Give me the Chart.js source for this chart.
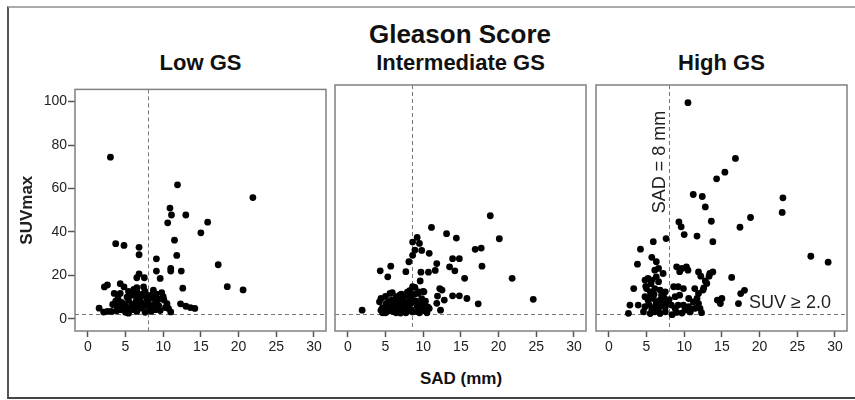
<!DOCTYPE html>
<html>
<head>
<meta charset="utf-8">
<script src="https://cdn.jsdelivr.net/npm/chart.js@4.4.1/dist/chart.umd.min.js"></script>
<style>
    body {
        margin: 0;
        width: 855px;
        height: 400px;
        background: #fff;
        position: relative;
        overflow: hidden;
        font-family: "Liberation Sans", Arial, sans-serif;
        color: #111;
    }
    .frame {
        position: absolute;
        left: 7px;
        top: 6px;
        width: 860px;
        height: 393px;
        box-sizing: border-box;
        border-top: 2px solid #aaa;
        border-left: 2px solid #555;
        border-bottom: 2px solid #444;
    }
    .lbl {
        position: absolute;
        text-align: center;
        font-weight: bold;
        white-space: nowrap;
    }
    .main-title { left: 330px; width: 260px; top: 21px; font-size: 26px; line-height: 26px; }
    .panel-title { top: 52px; width: 251px; font-size: 22px; line-height: 22px; }
    .x-title { left: 361px; width: 200px; top: 370px; font-size: 17px; line-height: 17px; }
    .box { position: absolute; top: 80px; height: 281px; }
</style>
</head>
<body>
<div class="frame"></div>
<div class="lbl main-title">Gleason Score</div>
<div class="lbl panel-title" style="left:75px">Low GS</div>
<div class="lbl panel-title" style="left:335px">Intermediate GS</div>
<div class="lbl panel-title" style="left:596px">High GS</div>
<div class="lbl x-title">SAD (mm)</div>

<div class="box" style="left:0px;width:330px"><canvas id="lowChart"></canvas></div>
<div class="box" style="left:331px;width:259px"><canvas id="midChart"></canvas></div>
<div class="box" style="left:592px;width:259px"><canvas id="highChart"></canvas></div>

<script>
// Axis ticks
const xTicks = [0, 5, 10, 15, 20, 25, 30];
const yTicks = [0, 20, 40, 60, 80, 100];

// Cut-off lines (SAD in mm, SUVmax)
const sadCutoffs = [8, 8.5, 8];
const suvCutoff = 2;

// Low GS
const lowSad = [
    3.0, 11.9, 21.9, 10.9, 11.1, 13.0, 10.6, 15.9, 15.0, 11.5,
    3.7, 4.8, 6.8, 6.8, 11.8, 9.1, 17.3, 11.0, 11.0, 9.1,
    12.4, 6.8, 6.5, 7.5, 9.6, 18.5, 20.6, 12.6, 2.2, 2.6,
    4.3, 4.8, 3.5, 4.3, 5.4, 6.5, 6.5, 6.5, 7.4, 7.6,
    7.7, 8.7, 9.1, 9.8, 10.0, 9.4, 10.1, 5.4, 3.7, 4.5,
    6.4, 7.1, 7.9, 8.8, 9.4, 10.3, 10.7, 11.0, 12.3, 13.0,
    13.6, 14.2, 1.5, 2.6, 3.1, 3.8, 4.3, 4.9, 5.4, 6.0,
    6.5, 7.1, 7.6, 8.2, 8.4, 9.0, 9.6, 5.4, 4.5, 3.8,
    6.0, 6.5, 7.6, 5.0, 5.8, 7.0, 5.9, 4.9, 6.9, 8.0,
    5.2, 4.0, 8.3, 6.1, 7.3, 8.6, 3.3, 2.1, 9.1, 10.5,
    6.3
];
const lowSuv = [
    74.4, 61.7, 55.8, 51.0, 47.8, 47.8, 44.2, 44.5, 39.6, 36.2,
    34.6, 33.8, 32.9, 29.5, 29.2, 27.6, 24.9, 23.2, 22.0, 22.0,
    22.0, 20.7, 18.9, 18.9, 18.6, 14.8, 13.3, 14.1, 14.7, 15.6,
    16.2, 14.7, 11.7, 11.7, 12.6, 14.4, 12.6, 10.6, 14.7, 12.6,
    10.2, 13.2, 11.4, 12.1, 10.2, 9.1, 8.7, 8.7, 8.1, 7.6,
    8.1, 7.5, 8.5, 6.7, 6.1, 5.2, 4.8, 3.2, 6.9, 5.8,
    5.2, 4.8, 4.9, 3.4, 3.4, 3.6, 4.2, 4.9, 2.6, 4.2,
    3.4, 4.9, 3.0, 4.9, 3.4, 4.2, 3.8, 4.9, 5.5, 6.1,
    6.1, 4.9, 6.1, 3.0, 6.8, 10.0, 10.9, 6.5, 5.6, 7.2,
    10.0, 9.5, 10.8, 13.5, 11.5, 9.5, 6.6, 3.1, 7.8, 7.0,
    7.0
];

// Intermediate GS
const midSad = [
    18.9, 11.1, 13.1, 14.4, 20.1, 9.2, 8.6, 9.5, 8.9, 9.8,
    10.8, 8.6, 16.9, 17.7, 8.1, 11.8, 13.9, 14.8, 13.5, 14.2,
    17.8, 5.7, 4.3, 7.7, 9.7, 10.7, 11.6, 5.3, 15.5, 21.8,
    9.6, 24.6, 17.3, 15.8, 13.9, 14.8, 12.2, 12.5, 11.9, 12.8,
    11.8, 12.3, 1.9, 10.3, 10.6, 10.8, 10.5, 10.1, 8.6, 9.3,
    8.2, 8.4, 4.2, 4.4, 4.6, 4.6, 5.1, 5.2, 5.8, 5.8,
    5.8, 5.9, 6.4, 6.4, 6.4, 6.4, 7.1, 7.1, 7.1, 7.1,
    7.7, 7.7, 7.7, 8.2, 8.4, 8.4, 8.8, 9.0, 9.2, 9.2,
    9.5, 9.7, 9.5, 5.0, 4.4, 5.6, 6.9, 8.9, 9.4, 10.0,
    5.4, 6.1, 6.8, 7.4, 6.0, 6.7, 5.3, 7.9, 8.0, 4.8,
    6.2, 7.5, 9.9, 10.2, 5.5, 6.7, 7.3, 8.0, 5.0, 6.0,
    7.0, 8.6, 9.8, 7.9
];
const midSuv = [
    46.5, 41.2, 38.4, 36.4, 36.1, 36.7, 34.6, 34.0, 31.0, 30.8,
    29.5, 28.6, 31.3, 31.9, 25.7, 24.9, 27.1, 27.1, 23.4, 21.6,
    23.7, 23.7, 21.6, 21.2, 21.0, 21.0, 21.8, 18.9, 18.2, 18.2,
    17.0, 8.7, 6.7, 9.1, 10.3, 10.3, 13.6, 12.9, 10.2, 8.4,
    6.9, 3.8, 3.8, 7.9, 5.3, 4.6, 2.6, 12.1, 14.4, 11.4,
    12.6, 9.9, 7.6, 9.1, 5.0, 2.6, 6.9, 4.6, 8.4, 6.1,
    3.8, 11.7, 9.9, 6.9, 4.6, 2.6, 11.1, 8.4, 5.7, 3.5,
    6.9, 4.6, 2.6, 8.4, 6.9, 4.1, 11.0, 8.0, 5.5, 3.2,
    7.0, 4.6, 2.6, 2.6, 3.8, 11.4, 10.6, 14.1, 12.1, 12.3,
    5.5, 5.0, 6.0, 5.0, 3.2, 3.6, 3.3, 3.3, 5.5, 4.0,
    7.7, 7.6, 6.2, 3.6, 7.5, 8.0, 9.6, 10.5, 10.0, 4.2,
    2.5, 3.0, 9.0, 12.0
];

// High GS
const highSad = [
    10.5, 16.8, 15.4, 14.3, 11.2, 12.4, 12.8, 23.1, 23.0, 18.8,
    17.4, 13.6, 9.3, 9.6, 10.0, 11.7, 13.8, 7.6, 5.9, 4.2,
    26.8, 29.1, 5.7, 6.3, 13.8, 13.3, 12.8, 16.3, 13.4, 13.0,
    18.0, 17.5, 17.2, 14.4, 15.0, 14.8, 12.6, 3.8, 6.6, 6.1,
    5.2, 4.8, 5.7, 6.3, 6.6, 3.3, 5.0, 5.5, 6.1, 6.8,
    7.0, 7.5, 4.8, 5.2, 5.9, 6.3, 6.8, 7.2, 7.7, 2.8,
    3.9, 4.8, 5.7, 6.6, 7.5, 8.3, 2.6, 4.6, 5.5, 6.1,
    6.8, 7.5, 9.0, 9.7, 10.3, 10.5, 8.6, 9.2, 9.9, 11.4,
    11.9, 12.5, 8.8, 9.4, 10.6, 11.2, 11.7, 11.9, 12.1, 11.4,
    10.6, 9.9, 9.2, 8.8, 10.1, 9.0, 9.7, 10.8, 12.3, 7.2,
    11.9, 12.2, 9.4, 5.6, 4.9, 8.4, 5.3, 6.2, 7.0, 8.0,
    6.0, 5.6, 7.3
];
const highSuv = [
    97.6, 72.4, 66.2, 63.2, 56.1, 55.2, 50.5, 54.6, 48.0, 45.7,
    41.3, 44.0, 43.7, 41.5, 38.0, 37.3, 34.8, 36.2, 34.8, 31.4,
    28.2, 25.5, 27.7, 25.7, 21.1, 19.2, 17.0, 18.6, 20.4, 15.9,
    12.8, 11.3, 6.8, 8.4, 9.1, 6.8, 13.9, 24.6, 22.7, 21.9,
    18.2, 17.4, 17.4, 18.9, 16.7, 13.6, 13.6, 12.1, 13.6, 12.9,
    10.6, 12.1, 9.9, 8.4, 9.1, 7.6, 8.4, 6.8, 7.6, 6.1,
    6.1, 5.4, 4.6, 4.6, 5.4, 6.1, 2.4, 3.1, 2.3, 3.1,
    2.3, 3.1, 23.4, 22.7, 23.4, 21.9, 14.4, 14.4, 13.6, 13.6,
    11.4, 12.9, 9.9, 10.6, 9.1, 7.6, 9.1, 6.8, 4.6, 4.6,
    5.4, 6.1, 6.1, 4.6, 3.8, 2.8, 2.5, 3.0, 2.7, 20.4,
    21.1, 19.2, 21.2, 15.8, 14.6, 1.8, 6.5, 6.0, 5.8, 8.6,
    11.0, 10.3, 9.6
];

const X_MIN = -1.7, X_MAX = 31.6;
const Y_MIN = -5.6, Y_MAX = 105.6;

Chart.defaults.font.family = '"Liberation Sans", Arial, sans-serif';
Chart.defaults.color = "#222";

const toPoints = (xs, ys) => xs.map((x, i) => ({ x, y: ys[i] }));

// Dashed cut-off lines under the dots, grey frame on top
const cutoffLines = {
    id: "cutoffLines",
    beforeDatasetsDraw(chart, args, opts) {
        const { ctx, chartArea: a, scales: { x, y } } = chart;
        ctx.save();
        ctx.strokeStyle = "#777";
        ctx.lineWidth = 1;
        ctx.setLineDash([4, 3]);
        const px = Math.round(x.getPixelForValue(opts.sad)) + 0.5;
        const py = Math.round(y.getPixelForValue(suvCutoff)) + 0.5;
        ctx.beginPath();
        ctx.moveTo(px, a.top);
        ctx.lineTo(px, a.bottom);
        ctx.moveTo(a.left, py);
        ctx.lineTo(a.right, py);
        ctx.stroke();
        ctx.restore();
    },
    afterDatasetsDraw(chart) {
        const { ctx, chartArea: a } = chart;
        ctx.save();
        ctx.strokeStyle = "#808080";
        ctx.lineWidth = 1.5;
        ctx.strokeRect(a.left, a.top, a.right - a.left, a.bottom - a.top);
        ctx.restore();
    },
};

// Labels of the cut-off lines (High GS panel only)
const cutoffLabels = {
    id: "cutoffLabels",
    afterDatasetsDraw(chart) {
        const { ctx, chartArea: a, scales: { x, y } } = chart;
        ctx.save();
        ctx.fillStyle = "#222";
        ctx.font = '18px "Liberation Sans", Arial, sans-serif';
        ctx.textAlign = "right";
        ctx.textBaseline = "middle";
        ctx.fillText("SUV \u2265 2.0", a.right - 16, y.getPixelForValue(suvCutoff) - 11);
        ctx.translate(x.getPixelForValue(sadCutoffs[2]) - 9, a.top + 77);
        ctx.rotate(-Math.PI / 2);
        ctx.textAlign = "center";
        ctx.fillText("SAD = 8 mm", 0, 0);
        ctx.restore();
    },
};

const tickGrid = {
    drawOnChartArea: false,
    drawTicks: true,
    color: "#555",
    tickWidth: 1.5,
};

const makePanel = (id, xs, ys, sad, withYAxis, extraPlugins) => {
    new Chart(document.getElementById(id), {
        type: "scatter",
        data: {
            datasets: [
                {
                    data: toPoints(xs, ys),
                    backgroundColor: "#000",
                    borderWidth: 0,
                    pointRadius: 3.4,
                },
            ],
        },
        options: {
            responsive: true,
            maintainAspectRatio: false,
            animation: false,
            layout: { padding: { left: withYAxis ? 0 : 4, right: 4, top: 5, bottom: 0 } },
            plugins: {
                legend: { display: false },
                tooltip: { enabled: false },
                cutoffLines: { sad },
            },
            scales: {
                x: {
                    type: "linear",
                    min: X_MIN,
                    max: X_MAX,
                    afterBuildTicks: (s) => { s.ticks = xTicks.map((v) => ({ value: v })); },
                    afterFit: (s) => { s.height = 30; },
                    grid: { ...tickGrid, tickLength: 6 },
                    border: { display: false },
                    ticks: { padding: 2, maxRotation: 0, autoSkip: false, font: { size: 14 }, color: "#222" },
                },
                y: {
                    display: withYAxis,
                    min: Y_MIN,
                    max: Y_MAX,
                    afterBuildTicks: (s) => { s.ticks = yTicks.map((v) => ({ value: v })); },
                    afterFit: (s) => { s.width = withYAxis ? 75 : 0; },
                    grid: { ...tickGrid, tickLength: 7 },
                    border: { display: false },
                    ticks: { padding: 1, font: { size: 14 }, color: "#222" },
                    title: {
                        display: true,
                        text: "SUVmax",
                        color: "#222",
                        font: { size: 17, weight: "bold" },
                        padding: { top: 17, bottom: 0 },
                    },
                },
            },
        },
        plugins: [cutoffLines, ...extraPlugins],
    });
};

makePanel("lowChart", lowSad, lowSuv, sadCutoffs[0], true, []);
makePanel("midChart", midSad, midSuv, sadCutoffs[1], false, []);
makePanel("highChart", highSad, highSuv, sadCutoffs[2], false, [cutoffLabels]);
</script>
</body>
</html>
